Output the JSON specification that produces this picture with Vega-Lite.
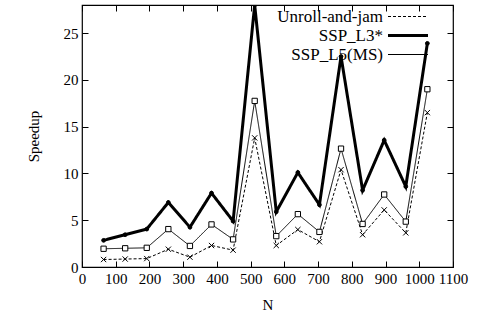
{
  "$schema": "https://vega.github.io/schema/vega-lite/v6.json",
  "width": 371,
  "height": 262,
  "autosize": "none",
  "padding": {"left": 82, "top": 5, "right": 24, "bottom": 55},
  "background": "white",
  "config": {
    "font": "Liberation Serif",
    "view": {"stroke": "black", "strokeWidth": 1.2},
    "axis": {"labelFont": "Liberation Serif", "titleFont": "Liberation Serif", "labelFontSize": 15, "titleFontSize": 15, "titleFontWeight": "normal", "labelColor": "black", "titleColor": "black", "domain": false, "grid": false, "tickColor": "black", "tickSize": -6, "tickWidth": 1},
    "legend": {"labelFont": "Liberation Serif", "labelFontSize": 17, "labelColor": "black", "padding": 0}
  },
  "data": {"values": [
    {"N": 64, "series": "Unroll-and-jam", "speedup": 0.8},
    {"N": 128, "series": "Unroll-and-jam", "speedup": 0.85},
    {"N": 192, "series": "Unroll-and-jam", "speedup": 0.9},
    {"N": 256, "series": "Unroll-and-jam", "speedup": 1.9},
    {"N": 320, "series": "Unroll-and-jam", "speedup": 1.05},
    {"N": 384, "series": "Unroll-and-jam", "speedup": 2.3},
    {"N": 448, "series": "Unroll-and-jam", "speedup": 1.8},
    {"N": 512, "series": "Unroll-and-jam", "speedup": 13.8},
    {"N": 576, "series": "Unroll-and-jam", "speedup": 2.3},
    {"N": 640, "series": "Unroll-and-jam", "speedup": 4.0},
    {"N": 704, "series": "Unroll-and-jam", "speedup": 2.7},
    {"N": 768, "series": "Unroll-and-jam", "speedup": 10.4},
    {"N": 832, "series": "Unroll-and-jam", "speedup": 3.45},
    {"N": 896, "series": "Unroll-and-jam", "speedup": 6.1},
    {"N": 960, "series": "Unroll-and-jam", "speedup": 3.65},
    {"N": 1024, "series": "Unroll-and-jam", "speedup": 16.5},
    {"N": 64, "series": "SSP_L3*", "speedup": 2.85},
    {"N": 128, "series": "SSP_L3*", "speedup": 3.45},
    {"N": 192, "series": "SSP_L3*", "speedup": 4.05},
    {"N": 256, "series": "SSP_L3*", "speedup": 6.9},
    {"N": 320, "series": "SSP_L3*", "speedup": 4.25},
    {"N": 384, "series": "SSP_L3*", "speedup": 7.9},
    {"N": 448, "series": "SSP_L3*", "speedup": 4.9},
    {"N": 512, "series": "SSP_L3*", "speedup": 28.0},
    {"N": 576, "series": "SSP_L3*", "speedup": 5.9},
    {"N": 640, "series": "SSP_L3*", "speedup": 10.1},
    {"N": 704, "series": "SSP_L3*", "speedup": 6.65},
    {"N": 768, "series": "SSP_L3*", "speedup": 22.5},
    {"N": 832, "series": "SSP_L3*", "speedup": 8.2},
    {"N": 896, "series": "SSP_L3*", "speedup": 13.55},
    {"N": 960, "series": "SSP_L3*", "speedup": 8.6},
    {"N": 1024, "series": "SSP_L3*", "speedup": 23.9},
    {"N": 64, "series": "SSP_L5(MS)", "speedup": 1.95},
    {"N": 128, "series": "SSP_L5(MS)", "speedup": 2.0},
    {"N": 192, "series": "SSP_L5(MS)", "speedup": 2.05},
    {"N": 256, "series": "SSP_L5(MS)", "speedup": 4.05},
    {"N": 320, "series": "SSP_L5(MS)", "speedup": 2.25},
    {"N": 384, "series": "SSP_L5(MS)", "speedup": 4.55},
    {"N": 448, "series": "SSP_L5(MS)", "speedup": 2.95},
    {"N": 512, "series": "SSP_L5(MS)", "speedup": 17.75},
    {"N": 576, "series": "SSP_L5(MS)", "speedup": 3.3},
    {"N": 640, "series": "SSP_L5(MS)", "speedup": 5.65},
    {"N": 704, "series": "SSP_L5(MS)", "speedup": 3.75},
    {"N": 768, "series": "SSP_L5(MS)", "speedup": 12.65},
    {"N": 832, "series": "SSP_L5(MS)", "speedup": 4.6},
    {"N": 896, "series": "SSP_L5(MS)", "speedup": 7.75},
    {"N": 960, "series": "SSP_L5(MS)", "speedup": 4.85},
    {"N": 1024, "series": "SSP_L5(MS)", "speedup": 19.0}
  ]},
  "encoding": {
    "x": {"field": "N", "type": "quantitative", "scale": {"domain": [0, 1100], "nice": false, "zero": false}},
    "y": {"field": "speedup", "type": "quantitative", "scale": {"domain": [0, 28], "nice": false}}
  },
  "layer": [
    {
      "mark": {"type": "line", "clip": true, "color": "black"},
      "encoding": {
        "x": {"field": "N", "type": "quantitative", "axis": {"orient": "bottom", "title": "N", "format": "d", "values": [0,100,200,300,400,500,600,700,800,900,1000,1100], "labelPadding": 10, "titlePadding": 11, "labelOverlap": false, "labelFlush": false, "labelFont": "Liberation Serif"}},
        "y": {"field": "speedup", "type": "quantitative", "axis": {"orient": "left", "title": "Speedup", "values": [0,5,10,15,20,25], "labelPadding": 10, "titlePadding": 22, "labelFont": "Liberation Serif"}},
        "strokeDash": {"field": "series", "type": "nominal",
          "scale": {"domain": ["Unroll-and-jam", "SSP_L3*", "SSP_L5(MS)"], "range": [[3, 2], [1, 0], [1, 0]]},
          "legend": {"title": null, "orient": "none", "legendX": 188, "legendY": 3, "rowPadding": 1, "symbolType": "stroke", "symbolSize": 1600, "symbolStrokeColor": "black", "labelFontSize": 17,
            "encode": {
              "labels": {"update": {"align": {"value": "right"}, "x": {"value": 113}}},
              "symbols": {"update": {"x": {"value": 138}, "stroke": {"value": "black"}, "strokeWidth": {"signal": "datum.value === 'SSP_L3*' ? 3 : 1"}, "opacity": {"value": 1}}}
            }}},
        "strokeWidth": {"condition": {"test": "datum.series === 'SSP_L3*'", "value": 3}, "value": 1}
      }
    },
    {
      "mark": {"type": "point", "clip": true, "filled": false, "color": "black", "strokeWidth": 1, "opacity": 1},
      "encoding": {
        "x": {"field": "N", "type": "quantitative", "axis": {"orient": "top", "title": null, "labels": false, "values": [0,100,200,300,400,500,600,700,800,900,1000,1100]}},
        "y": {"field": "speedup", "type": "quantitative", "axis": {"orient": "right", "title": null, "labels": false, "values": [0,5,10,15,20,25]}},
        "detail": {"field": "series", "type": "nominal"},
        "fill": {"condition": {"test": "datum.series === 'SSP_L3*'", "value": "black"}, "value": "white"},
        "size": {"condition": {"test": "datum.series === 'SSP_L3*'", "value": 14}, "value": 28},
        "shape": {"condition": [{"test": "datum.series === 'SSP_L3*'", "value": "circle"}, {"test": "datum.series === 'SSP_L5(MS)'", "value": "square"}], "value": "M-1,-1L1,1M-1,1L1,-1"}
      }
    }
  ],
  "resolve": {"axis": {"x": "independent", "y": "independent"}}
}
